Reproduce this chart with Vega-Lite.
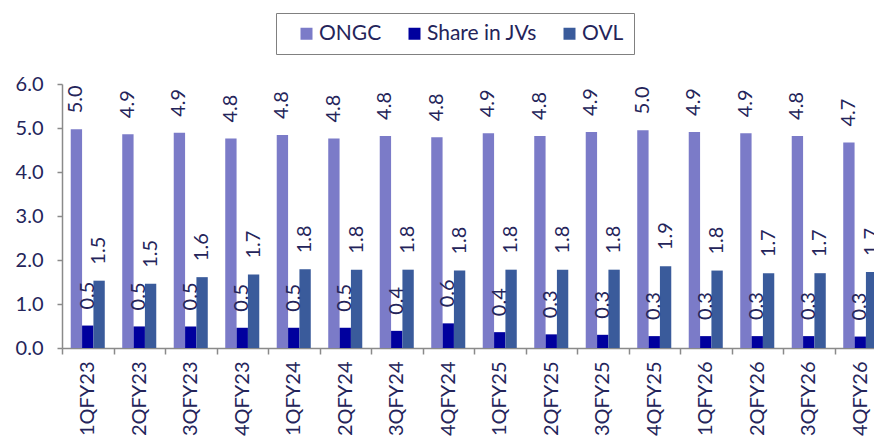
{
  "$schema": "https://vega.github.io/schema/vega-lite/v6.json",
  "autosize": {"type": "none"},
  "width": 812,
  "height": 264,
  "padding": {"left": 62, "top": 84, "right": 0, "bottom": 91},
  "background": "white",
  "config": {
    "view": {"stroke": null},
    "font": "Lato",
    "axis": {"labelFont": "Lato", "labelColor": "#24245a", "domainColor": "#8a8a8a", "tickColor": "#8a8a8a", "domainWidth": 1.5, "tickWidth": 1.5},
    "legend": {"labelFont": "Lato"}
  },
  "data": {
    "values": [
      {"q": "1QFY23", "s": "ONGC", "v": 4.97}, {"q": "1QFY23", "s": "Share in JVs", "v": 0.51}, {"q": "1QFY23", "s": "OVL", "v": 1.53},
      {"q": "2QFY23", "s": "ONGC", "v": 4.86}, {"q": "2QFY23", "s": "Share in JVs", "v": 0.49}, {"q": "2QFY23", "s": "OVL", "v": 1.46},
      {"q": "3QFY23", "s": "ONGC", "v": 4.89}, {"q": "3QFY23", "s": "Share in JVs", "v": 0.49}, {"q": "3QFY23", "s": "OVL", "v": 1.61},
      {"q": "4QFY23", "s": "ONGC", "v": 4.76}, {"q": "4QFY23", "s": "Share in JVs", "v": 0.46}, {"q": "4QFY23", "s": "OVL", "v": 1.67},
      {"q": "1QFY24", "s": "ONGC", "v": 4.84}, {"q": "1QFY24", "s": "Share in JVs", "v": 0.46}, {"q": "1QFY24", "s": "OVL", "v": 1.79},
      {"q": "2QFY24", "s": "ONGC", "v": 4.76}, {"q": "2QFY24", "s": "Share in JVs", "v": 0.46}, {"q": "2QFY24", "s": "OVL", "v": 1.78},
      {"q": "3QFY24", "s": "ONGC", "v": 4.82}, {"q": "3QFY24", "s": "Share in JVs", "v": 0.39}, {"q": "3QFY24", "s": "OVL", "v": 1.78},
      {"q": "4QFY24", "s": "ONGC", "v": 4.79}, {"q": "4QFY24", "s": "Share in JVs", "v": 0.56}, {"q": "4QFY24", "s": "OVL", "v": 1.76},
      {"q": "1QFY25", "s": "ONGC", "v": 4.88}, {"q": "1QFY25", "s": "Share in JVs", "v": 0.36}, {"q": "1QFY25", "s": "OVL", "v": 1.78},
      {"q": "2QFY25", "s": "ONGC", "v": 4.82}, {"q": "2QFY25", "s": "Share in JVs", "v": 0.31}, {"q": "2QFY25", "s": "OVL", "v": 1.78},
      {"q": "3QFY25", "s": "ONGC", "v": 4.91}, {"q": "3QFY25", "s": "Share in JVs", "v": 0.30}, {"q": "3QFY25", "s": "OVL", "v": 1.78},
      {"q": "4QFY25", "s": "ONGC", "v": 4.95}, {"q": "4QFY25", "s": "Share in JVs", "v": 0.27}, {"q": "4QFY25", "s": "OVL", "v": 1.86},
      {"q": "1QFY26", "s": "ONGC", "v": 4.91}, {"q": "1QFY26", "s": "Share in JVs", "v": 0.27}, {"q": "1QFY26", "s": "OVL", "v": 1.76},
      {"q": "2QFY26", "s": "ONGC", "v": 4.88}, {"q": "2QFY26", "s": "Share in JVs", "v": 0.27}, {"q": "2QFY26", "s": "OVL", "v": 1.70},
      {"q": "3QFY26", "s": "ONGC", "v": 4.82}, {"q": "3QFY26", "s": "Share in JVs", "v": 0.27}, {"q": "3QFY26", "s": "OVL", "v": 1.70},
      {"q": "4QFY26", "s": "ONGC", "v": 4.67}, {"q": "4QFY26", "s": "Share in JVs", "v": 0.26}, {"q": "4QFY26", "s": "OVL", "v": 1.73}
    ]
  },
  "encoding": {
    "x": {
      "field": "q", "type": "nominal", "sort": null,
      "scale": {"range": [0, 824], "paddingInner": 0, "paddingOuter": 0},
      "axis": {"title": null, "labelAngle": -90, "tickBand": "extent", "tickSize": 6, "labelPadding": 7, "labelFontSize": 20}
    },
    "xOffset": {"field": "s", "type": "nominal", "sort": ["ONGC", "Share in JVs", "OVL"], "scale": {"paddingInner": 0, "paddingOuter": 0.77}},
    "y": {
      "field": "v", "type": "quantitative",
      "scale": {"domain": [0, 6], "nice": false},
      "axis": {"title": null, "values": [0, 1, 2, 3, 4, 5, 6], "format": ".1f", "grid": false, "tickSize": 5, "labelPadding": 14, "labelFontSize": 20}
    }
  },
  "layer": [
    {
      "mark": {"type": "bar"},
      "encoding": {
        "color": {
          "field": "s", "type": "nominal",
          "scale": {"domain": ["ONGC", "Share in JVs", "OVL"], "range": ["#7b7bc8", "#00009e", "#3a5b9b"]},
          "legend": {
            "title": null, "orient": "none", "direction": "horizontal", "legendX": 214, "legendY": -71,
            "strokeColor": "#808080", "padding": 10, "symbolType": "square", "symbolSize": 144,
            "symbolStrokeWidth": 0, "symbolOffset": 10, "labelFontSize": 21, "labelColor": "#24245a", "columnPadding": 12, "labelOffset": 2
          }
        }
      }
    },
    {
      "mark": {"type": "text", "angle": 270, "align": "left", "baseline": "middle", "dx": 16, "fontSize": 20, "color": "#24245a"},
      "encoding": {"text": {"field": "v", "type": "quantitative", "format": ".1f"}}
    }
  ]
}
